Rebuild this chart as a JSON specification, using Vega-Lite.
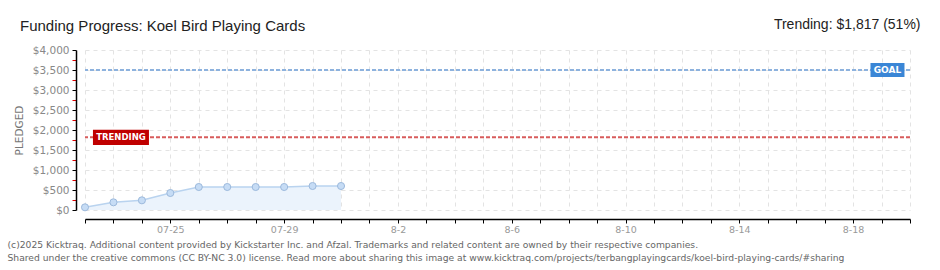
{
  "$schema": "https://vega.github.io/schema/vega-lite/v6.json",
  "width": 825,
  "height": 160,
  "autosize": {"type": "none"},
  "padding": {"left": 85, "top": 50, "right": 30, "bottom": 60},
  "background": "white",
  "title": {
    "text": "Funding Progress: Koel Bird Playing Cards",
    "anchor": "start",
    "frame": "group",
    "dx": -65,
    "dy": 31,
    "offset": 14,
    "fontSize": 15,
    "font": "Liberation Sans",
    "fontWeight": "normal",
    "color": "#222222"
  },
  "datasets": {
    "funding": [
      {"date": "2025-07-22", "pledged": 67},
      {"date": "2025-07-23", "pledged": 192},
      {"date": "2025-07-24", "pledged": 242},
      {"date": "2025-07-25", "pledged": 425},
      {"date": "2025-07-26", "pledged": 575},
      {"date": "2025-07-27", "pledged": 575},
      {"date": "2025-07-28", "pledged": 575},
      {"date": "2025-07-29", "pledged": 575},
      {"date": "2025-07-30", "pledged": 600},
      {"date": "2025-07-31", "pledged": 600}
    ],
    "goal": [{"label": "GOAL", "pledged": 3500}],
    "trend": [{"label": "TRENDING", "pledged": 1817}]
  },
  "resolve": {"axis": {"x": "independent"}},
  "encoding": {
    "y": {
      "field": "pledged",
      "type": "quantitative",
      "scale": {"domain": [0, 4000], "nice": false},
      "axis": {
        "offset": 9,
        "values": [0, 250, 500, 750, 1000, 1250, 1500, 1750, 2000, 2250, 2500, 2750, 3000, 3250, 3500, 3750, 4000],
        "labelExpr": "datum.value % 500 == 0 ? format(datum.value, '$,') : ''",
        "labelFont": "DejaVu Sans",
        "labelFontSize": 10.5,
        "labelColor": "#888888",
        "labelPadding": 3,
        "tickSize": 4,
        "tickColor": {"condition": {"test": "datum.value % 500 != 0", "value": "#e00000"}, "value": "#000000"},
        "domainColor": "#000000",
        "domainWidth": 1.5,
        "grid": true,
        "gridDash": [4, 4],
        "gridColor": {"condition": {"test": "datum.value % 500 != 0", "value": "rgba(255,255,255,0)"}, "value": "#e3e3e3"},
        "title": "PLEDGED",
        "titleFont": "DejaVu Sans",
        "titleFontSize": 10.5,
        "titleFontWeight": "normal",
        "titleColor": "#777777",
        "titleAlign": "center",
        "titleBaseline": "middle",
        "titleX": -57,
        "titleY": 80
      }
    }
  },
  "layer": [
    {
      "data": {"name": "funding"},
      "mark": {"type": "area", "color": "#ebf3fc", "opacity": 1},
      "encoding": {
        "x": {
          "field": "date",
          "type": "temporal",
          "scale": {
            "type": "utc",
            "domain": [
              {"year": 2025, "month": 7, "date": 22, "utc": true},
              {"year": 2025, "month": 8, "date": 20, "utc": true}
            ],
            "nice": false
          },
          "axis": {
            "orient": "bottom",
            "offset": 9,
            "tickCount": {"interval": "day", "step": 1},
            "labelExpr": "(round((datum.value - utc(2025,6,22))/86400000) - 3) % 4 == 0 ? (utcmonth(datum.value) == 6 ? utcFormat(datum.value, '%m-%d') : utcFormat(datum.value, '%-m-%-d')) : ''",
            "labelFlush": false,
            "labelOverlap": false,
            "labelFont": "DejaVu Sans",
            "labelFontSize": 9.5,
            "labelColor": "#999999",
            "labelPadding": 1,
            "tickSize": 4,
            "tickColor": "#000000",
            "domainColor": "#000000",
            "domainWidth": 1.5,
            "grid": true,
            "gridDash": [4, 4],
            "gridColor": "#e3e3e3",
            "title": [
              "(c)2025 Kicktraq. Additional content provided by Kickstarter Inc. and Afzal. Trademarks and related content are owned by their respective companies.",
              "Shared under the creative commons (CC BY-NC 3.0) license. Read more about sharing this image at www.kicktraq.com/projects/terbangplayingcards/koel-bird-playing-cards/#sharing"
            ],
            "titleFont": "DejaVu Sans",
            "titleFontSize": 9.2,
            "titleFontWeight": "normal",
            "titleColor": "#666666",
            "titleAnchor": "start",
            "titleAlign": "left",
            "titleBaseline": "alphabetic",
            "titleLineHeight": 13,
            "titleX": -78,
            "titleY": 28
          }
        }
      }
    },
    {
      "data": {"name": "funding"},
      "mark": {"type": "line", "color": "#b9d3ef", "strokeWidth": 1.5},
      "encoding": {
        "x": {"field": "date", "type": "temporal", "axis": null}
      }
    },
    {
      "data": {"name": "goal"},
      "mark": {"type": "rule", "color": "#8db2de", "strokeWidth": 2, "strokeDash": [4, 2]},
      "encoding": {}
    },
    {
      "data": {"name": "trend"},
      "mark": {"type": "rule", "color": "#d85c5c", "strokeWidth": 2, "strokeDash": [4, 2]},
      "encoding": {}
    },
    {
      "data": {"name": "funding"},
      "mark": {"type": "point", "filled": true, "fill": "#c6dcf5", "stroke": "#9cb9dc", "strokeWidth": 1, "size": 50, "opacity": 1},
      "encoding": {
        "x": {"field": "date", "type": "temporal", "axis": null}
      }
    },
    {
      "data": {"name": "goal"},
      "mark": {"type": "point", "filled": true, "color": "#3a86d6", "opacity": 1, "size": 1156, "shape": "M-1,-0.41L1,-0.41L1,0.41L-1,0.41Z"},
      "encoding": {
        "x": {
          "datum": {"year": 2025, "month": 8, "date": 19, "hours": 5, "utc": true},
          "type": "temporal",
          "axis": {
            "orient": "top",
            "labels": false,
            "ticks": false,
            "domain": false,
            "grid": false,
            "title": "Trending:  $1,817 (51%)",
            "titleFont": "Liberation Sans",
            "titleFontSize": 14,
            "titleFontWeight": "normal",
            "titleColor": "#222222",
            "titleAnchor": "end",
            "titleAlign": "right",
            "titleBaseline": "alphabetic",
            "titleX": 835,
            "titleY": -22
          }
        }
      }
    },
    {
      "data": {"name": "goal"},
      "mark": {"type": "text", "color": "white", "font": "DejaVu Sans", "fontSize": 9, "fontWeight": "bold", "align": "center", "baseline": "middle"},
      "encoding": {
        "x": {"datum": {"year": 2025, "month": 8, "date": 19, "hours": 5, "utc": true}, "type": "temporal", "axis": null},
        "text": {"field": "label"}
      }
    },
    {
      "data": {"name": "trend"},
      "mark": {"type": "point", "filled": true, "color": "#c00000", "opacity": 1, "size": 3136, "shape": "M-1,-0.27L1,-0.27L1,0.27L-1,0.27Z"},
      "encoding": {
        "x": {"datum": {"year": 2025, "month": 7, "date": 23, "hours": 6, "minutes": 20, "utc": true}, "type": "temporal", "axis": null}
      }
    },
    {
      "data": {"name": "trend"},
      "mark": {"type": "text", "color": "white", "font": "DejaVu Sans", "fontSize": 8.5, "fontWeight": "bold", "align": "center", "baseline": "middle"},
      "encoding": {
        "x": {"datum": {"year": 2025, "month": 7, "date": 23, "hours": 6, "minutes": 20, "utc": true}, "type": "temporal", "axis": null},
        "text": {"field": "label"}
      }
    }
  ],
  "config": {
    "view": {"stroke": null}
  }
}
